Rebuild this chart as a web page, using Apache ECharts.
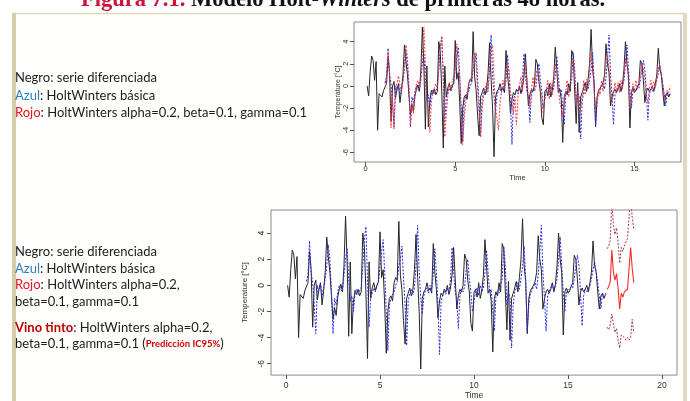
<!DOCTYPE html>
<html>
<head>
<meta charset="utf-8">
<script src="https://cdn.jsdelivr.net/npm/echarts@6/dist/echarts.min.js"></script>
<style>
  html, body { margin: 0; padding: 0; background: #ffffff; }
  #chart { width: 690px; height: 401px; }
</style>
</head>
<body>
<div id="chart"></div>
<script>
// Series sampled 12 times per time unit (ts frequency).
const FREQ = 12;
const DIFF_START = 1 / FREQ;        // first differenced observation
const FIT_START = 1 + 1 / FREQ;     // Holt-Winters fitted values begin after one season
const PRED_START = 17 + 1 / FREQ;   // 48 h forecast horizon

// Negro: serie diferenciada
const serieDiferenciada = [
  0.0, -0.9, 1.2, 2.7, 2.3, 0.5, 2.2, -4.0, -0.7, -0.6, -1.0, -0.4,
  -0.3, 0.2, 2.6, 1.2, -3.2, 0.0, 0.4, -1.1, -0.3, 0.2, -1.5, -0.4,
  1.0, 3.7, 2.2, 1.0, -0.8, -2.6, -1.7, -2.3, -0.9, -0.3, 0.1, -0.5,
  1.5, 5.3, 1.8, -3.9, 1.8, -3.7, -1.3, -0.4, -0.7, -0.3, -0.8, -0.5,
  4.0, 3.0, -0.5, -5.6, 1.8, -1.0, -0.2, 0.2, -0.4, 0.0, 0.3, 4.1,
  0.6, 1.2, -1.5, -5.2, -2.0, -1.0, -0.8, -1.2, 0.2, 0.6, 0.4, 4.9,
  0.8, -0.4, -2.7, -4.5, -1.0, -0.6, -0.2, -0.8, -0.3, 1.2, 3.9, 0.6,
  -2.0, -6.4, -1.0, -0.5, -0.3, 0.2, -0.4, -0.2, -0.6, 3.2, 1.0, -0.3,
  -2.5, -1.2, -0.6, -0.8, -0.3, -0.5, 0.0, -0.7, -0.2, 0.8, 2.9, 0.5,
  -1.8, -0.8, -0.3, -0.5, 0.0, 2.4, 2.0, 0.4, -0.5, -2.9, -3.5, -0.5,
  -0.3, -0.9, 0.2, -1.0, -0.4, 0.8, 3.5, 1.5, -0.6, -0.3, -1.2, -5.1,
  -1.0, -0.5, -0.8, 0.2, -0.5, 3.2, 2.8, -0.5, -3.4, 0.3, -4.2, -1.0,
  -0.6, -0.2, 0.3, -0.5, 0.6, 2.0, 5.1, 1.5, 0.3, -3.7, -1.0, -0.4,
  -0.5, 0.0, 0.3, 1.0, 3.8, 2.0, 1.2, -1.8, -1.0, -0.5, -0.3, -0.6,
  -0.3, 0.2, -0.5, 0.1, 1.5, 4.0, 2.0, 1.0, -3.8, -0.5, -0.2, -0.6,
  -0.4, -0.1, 0.2, 2.3, 2.0, 0.5, -1.5, -0.5, -0.2, -0.5, -0.3, 0.0,
  -0.5, 0.2, 1.0, 3.4, 1.5, 1.0, -0.5, -1.8, -0.8, -0.6, -1.0, -0.7
];

// Azul: HoltWinters básica (fitted)
const hwBasica = [
  0.3, 0.8, 3.4, 1.0, 0.2, -1.5, -3.7, 0.0, -0.4, 0.1, -0.8, -0.2,
  0.5, 1.5, 3.1, 2.0, -0.5, -3.7, -1.0, -1.5, -0.5, 0.0, -0.3, -0.5,
  0.8, 2.0, 2.8, 0.5, -1.2, -0.8, -2.0, -0.6, -0.3, -0.7, -0.4, -0.2,
  1.5, 3.5, 4.5, 0.5, -3.2, -1.0, -0.6, -0.2, -0.5, -0.1, 0.2, 1.5,
  2.5, 3.5, 1.0, -2.0, -5.0, -1.5, -1.0, -0.7, -0.5, 0.0, 0.3, 1.5,
  2.0, 3.0, 0.5, -1.5, -4.6, -1.2, -0.6, -0.3, -0.7, -0.2, 1.5, 4.6,
  1.0, -1.0, -2.2, -0.8, -0.4, -0.2, -0.6, 0.0, -0.3, 0.8, 2.8, 1.0,
  -1.5, -5.3, -1.2, -0.8, -0.4, -0.7, -0.2, -0.5, 0.5, 2.9, 1.0, -0.5,
  -1.0, -3.3, -0.8, -0.3, -0.5, -0.1, 1.2, 2.0, 0.5, -0.5, -2.0, -1.2,
  -0.5, -0.2, -0.8, 0.0, -0.5, -0.2, 1.0, 2.7, 1.0, -0.5, -0.3, -2.0,
  -3.5, -0.8, -0.4, -0.6, 0.0, 0.5, 3.0, 1.5, -1.5, -0.5, -1.0, -4.8,
  -1.5, -0.5, -0.2, 0.2, -0.3, 0.5, 1.5, 3.0, 0.5, -3.5, -1.5, -0.6,
  -0.4, -0.1, 0.2, -0.3, 0.8, 2.5, 4.6, 1.0, -1.0, -3.5, -0.8, -0.5,
  -0.2, 0.1, -0.4, 0.0, 0.5, 2.0, 3.7, 1.5, -0.5, -2.0, -0.5, -0.3,
  -0.5, 0.0, -0.2, 0.5, 1.5, 2.3, 1.5, -0.5, -3.1, -0.8, -0.3, -0.5,
  -0.4, 0.0, 0.5, 1.2, 1.8, 1.0, 0.2, -0.8, -1.8, -0.6, -0.9, -0.6
];

// Rojo: HoltWinters alpha=0.2, beta=0.1, gamma=0.1 (fitted)
const hwAjustada = [
  0.2, 0.8, 3.0, 1.2, -3.8, -1.0, -3.9, -0.5, 0.3, 0.9, 0.0, -0.5,
  0.5, 2.0, 3.7, 2.5, 0.0, -3.5, -1.5, -2.5, -1.0, 0.2, 0.5, -0.2,
  0.5, 3.0, 5.3, 2.0, -1.5, -2.0, -4.2, -1.5, -0.5, -0.2, 0.2, -0.3,
  1.5, 3.5, 4.4, 1.0, -4.6, -2.5, -1.0, 0.3, -0.3, 0.4, 0.8, 1.5,
  3.8, 2.0, 0.5, -2.5, -5.3, -3.0, -1.5, -0.5, 0.0, 0.5, 0.8, 1.8,
  3.0, 2.0, -0.5, -2.5, -4.6, -2.0, -1.0, -0.2, 0.3, -0.5, 1.5, 3.5,
  3.7, 0.5, -2.0, -3.0, -4.0, -1.5, -0.5, 0.5, -0.3, 0.5, 2.0, 1.5,
  -0.5, -1.5, -2.5, -1.0, -3.5, -1.0, 0.0, 0.8, -0.5, 1.5, 2.0, 0.5,
  -1.0, -2.0, -0.5, 0.8, -0.3, 1.0, 1.5, 1.0, -0.5, -1.0, -2.5, -1.0,
  -0.5, 0.5, -1.2, 0.3, -0.8, 1.0, 2.0, 1.5, 0.0, -1.5, -2.0, -2.8,
  -1.5, -0.5, 0.5, -1.0, 0.3, 1.5, 2.5, 1.0, -1.5, -0.5, -2.5, -2.0,
  -1.0, 0.5, -0.8, 0.6, 0.0, 1.5, 3.0, 2.0, -0.5, -2.0, -1.5, -0.3,
  -0.8, 0.5, -0.5, 0.8, 2.0, 2.8, 1.5, -0.5, -1.5, -0.8, 0.3, -0.5,
  0.3, -0.6, 0.5, -0.3, 1.0, 2.5, 2.0, 0.5, -2.0, -1.0, 0.2, -0.5,
  0.5, -0.3, 0.4, 1.0, 2.0, 1.5, 0.5, -1.0, -1.5, -0.3, 0.5, -0.2,
  0.4, -0.2, 0.8, 1.5, 2.0, 1.2, 0.0, -1.0, -1.2, -0.4, -0.6, 0.0
];

// Vino tinto: predicción 48 h con intervalo de confianza del 95 %
const prediccion = [-0.3, -0.1, 0.3, 2.7, 1.0, 0.4, 0.9, -0.2, -1.8, -0.6, -0.9, -0.5, -0.6, -0.3, -0.4, 2.9, 1.3, 0.2];
const ic95Superior = [2.8, 3.0, 3.5, 6.5, 4.6, 3.9, 4.4, 3.2, 1.7, 2.9, 2.6, 3.0, 3.0, 3.6, 3.7, 6.8, 5.2, 4.3];
const ic95Inferior = [-3.2, -3.4, -3.0, -2.2, -3.0, -3.6, -3.3, -4.2, -4.8, -3.8, -3.7, -4.0, -4.2, -4.0, -4.2, -4.0, -2.6, -3.6];

// Axis ticks
const yTicks = [-6, -4, -2, 0, 2, 4];
const xTicksTop = [0, 5, 10, 15];
const xTicksBottom = [0, 5, 10, 15, 20];

// Legend texts
const textoSuperior = [
  '{n|Negro: serie diferenciada}',
  '{azul|Azul}{n|: HoltWinters básica}',
  '{rojo|Rojo}{n|: HoltWinters alpha=0.2, beta=0.1, gamma=0.1}'
];
const textoInferior = [
  '{n|Negro: serie diferenciada}',
  '{azul|Azul}{n|: HoltWinters básica}',
  '{rojo|Rojo}{n|: HoltWinters alpha=0.2,}',
  '{n|beta=0.1, gamma=0.1}',
  '{vino|Vino tinto}{n|: HoltWinters alpha=0.2,}',
  '{n|beta=0.1, gamma=0.1 (}{pred|Predicción IC95%}{n|)}'
];

function asSeries(values, start) {
  return values.map((v, i) => [start + i / FREQ, v]);
}

const TXT_FONT = 'Lato, "Open Sans", sans-serif';
const TXT_SIZE = 13;
const richStyles = {
  n:    { fill: '#1c1c1c', fontSize: TXT_SIZE, fontFamily: TXT_FONT },
  azul: { fill: '#2f7fc1', fontSize: TXT_SIZE, fontFamily: TXT_FONT },
  rojo: { fill: '#e8141c', fontSize: TXT_SIZE, fontFamily: TXT_FONT },
  vino: { fill: '#c00000', fontSize: TXT_SIZE, fontFamily: TXT_FONT, fontWeight: 'bold' },
  pred: { fill: '#d40000', fontSize: 9.5, fontFamily: TXT_FONT, fontWeight: 'bold' }
};

function textLine(str, y) {
  return {
    type: 'text', x: 15, y: y, z: 5,
    style: { text: str, rich: richStyles, fill: '#1c1c1c', fontSize: TXT_SIZE, fontFamily: TXT_FONT,
             textAlign: 'left', textVerticalAlign: 'middle' }
  };
}

const topY = [78, 95.5, 113];
const bottomY = [252, 268.5, 285, 301.5, 327.5, 344];

const TITLE_FONT = '"Liberation Serif", serif';
const graphics = [
  // panel frame
  { type: 'rect', z: -10, shape: { x: 13, y: 13.5, width: 672, height: 400 },
    style: { fill: '#fefefd', stroke: '#e0d6bc', lineWidth: 1.5 } },
  { type: 'rect', z: -9, shape: { x: 12, y: 13, width: 4, height: 400 },
    style: { fill: '#d8cba7' } },
  { type: 'rect', z: -9, shape: { x: 683, y: 13, width: 4, height: 400 },
    style: { fill: '#e2d9c0' } },
  // heading
  {
    type: 'text', x: 343, y: 0.5, z: 5,
    style: {
      text: '{r|Figura 7.1.}{b| Modelo Holt-}{i|Winters}{b| de primeras 48 horas.}',
      textAlign: 'center', textVerticalAlign: 'middle',
      fontSize: 22.5, fontFamily: TITLE_FONT, fontWeight: 'bold', fill: '#111',
      rich: {
        r: { fill: '#cc1438', fontSize: 22.5, fontFamily: TITLE_FONT, fontWeight: 'bold' },
        b: { fill: '#111111', fontSize: 22.5, fontFamily: TITLE_FONT, fontWeight: 'bold' },
        i: { fill: '#111111', fontSize: 22.5, fontFamily: TITLE_FONT, fontWeight: 'bold', fontStyle: 'italic' }
      }
    }
  }
];
textoSuperior.forEach((s, i) => graphics.push(textLine(s, topY[i])));
textoInferior.forEach((s, i) => graphics.push(textLine(s, bottomY[i])));

const AX_FONT = '"Liberation Sans", Arial, sans-serif';

function xAxisDef(grid, min, max, ticks, fs, margin, gap) {
  return {
    gridIndex: grid, type: 'value', min: min, max: max,
    axisLine: { show: false, onZero: false },
    splitLine: { show: false },
    axisTick: { show: true, inside: false, length: 4, customValues: ticks, lineStyle: { color: '#555', width: 1 } },
    axisLabel: { customValues: ticks, fontSize: fs, fontFamily: AX_FONT, color: '#333', margin: margin },
    name: 'Time', nameLocation: 'middle', nameGap: gap,
    nameTextStyle: { fontSize: fs, fontFamily: AX_FONT, color: '#333' }
  };
}
function yAxisDef(grid, fs, margin, gap) {
  return {
    gridIndex: grid, type: 'value', min: -6.87, max: 5.77,
    axisLine: { show: false, onZero: false },
    splitLine: { show: false },
    axisTick: { show: true, inside: false, length: 4, customValues: yTicks, lineStyle: { color: '#555', width: 1 } },
    axisLabel: { customValues: yTicks, rotate: 90, fontSize: fs, fontFamily: AX_FONT, color: '#333', margin: margin },
    name: 'Temperature [°C]', nameLocation: 'middle', nameRotate: 90, nameGap: gap,
    nameTextStyle: { fontSize: fs - 0.5, fontFamily: AX_FONT, color: '#333' }
  };
}

function lineSeries(name, grid, data, color, type, width, z) {
  return {
    name: name, type: 'line', xAxisIndex: grid, yAxisIndex: grid,
    data: data, showSymbol: false, symbol: 'none', clip: true, z: z,
    lineStyle: { color: color, width: width, type: type },
    emphasis: { disabled: true }, animation: false
  };
}

const option = {
  animation: false,
  backgroundColor: '#ffffff',
  graphic: graphics,
  grid: [
    { left: 354, top: 22, width: 327, height: 140, show: true, borderColor: '#8c8c8c', borderWidth: 1, backgroundColor: '#ffffff' },
    { left: 271, top: 210, width: 406, height: 172, show: true, borderColor: '#8c8c8c', borderWidth: 1, backgroundColor: '#ffffff' }
  ],
  xAxis: [
    xAxisDef(0, -0.65, 17.6, xTicksTop, 7.5, 3, 11),
    xAxisDef(1, -0.8, 20.8, xTicksBottom, 8.5, 6, 15)
  ],
  yAxis: [
    yAxisDef(0, 7.5, 4, 10),
    yAxisDef(1, 8.5, 5, 13)
  ],
  series: [
    lineSeries('Negro', 0, asSeries(serieDiferenciada, DIFF_START), '#262626', 'solid', 1, 2),
    lineSeries('Azul', 0, asSeries(hwBasica, FIT_START), '#2a2ae6', [2, 1.5], 1, 3),
    lineSeries('Rojo', 0, asSeries(hwAjustada, FIT_START), '#f23a3a', [2, 1.5], 1, 4),
    lineSeries('Negro', 1, asSeries(serieDiferenciada, DIFF_START), '#262626', 'solid', 1, 2),
    lineSeries('Azul', 1, asSeries(hwBasica, FIT_START), '#2a2ae6', [2, 1.5], 1, 3),
    lineSeries('Predicción', 1, asSeries(prediccion, PRED_START), '#f52a2a', 'solid', 1.1, 4),
    lineSeries('IC95% sup', 1, asSeries(ic95Superior, PRED_START), '#a8384a', [2, 1.5], 1, 4),
    lineSeries('IC95% inf', 1, asSeries(ic95Inferior, PRED_START), '#a8384a', [2, 1.5], 1, 4)
  ]
};

const chart = echarts.init(document.getElementById('chart'), null, { renderer: 'canvas' });
chart.setOption(option);
</script>
</body>
</html>
